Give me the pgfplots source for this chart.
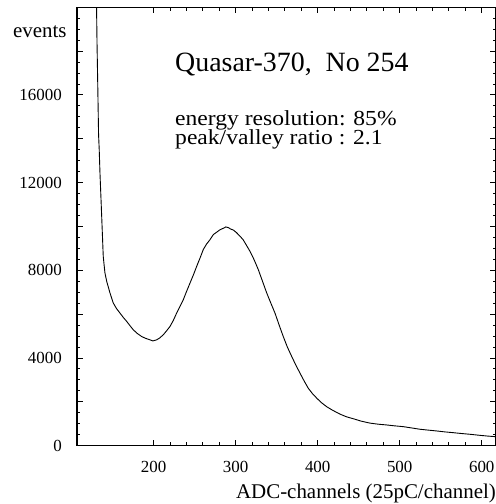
\documentclass[border=0pt]{standalone}
\usepackage{fontspec}
\setmainfont{Liberation Serif}
\usepackage{pgfplots}
\pgfplotsset{compat=1.18}

\begin{document}
\begin{tikzpicture}
\useasboundingbox (-77bp,-58.3bp) rectangle (419bp,445.7bp);
\begin{axis}[
    scale only axis,
    width=419bp, height=438.4bp,
    xmin=106.5, xmax=617.4,
    ymin=0, ymax=20000,
    axis line style={line width=1.2bp},
    xtick={200,300,400,500,600},
    minor x tick num=4,
    ytick={0,2000,...,20000},
    yticklabels={0,,4000,,8000,,12000,,16000,,},
    minor y tick num=3,
    tick align=inside,
    major tick length=6bp, minor tick length=3.5bp,
    tick style={line width=1bp, black},
    /pgf/number format/assume math mode=true,
    tick label style={font=\fontsize{17}{20}\selectfont, inner sep=0pt},
    xticklabel style={yshift=-15bp},
    yticklabel style={xshift=-15bp},
    every axis x label/.style={at={(rel axis cs:1,0)}, anchor=base east,
        yshift=-52.3bp, inner sep=0pt, font=\fontsize{21}{24}\selectfont},
    every axis y label/.style={at={(rel axis cs:0,0.9316)}, anchor=base east,
        xshift=-10.3bp, inner sep=0pt, font=\fontsize{21}{24}\selectfont},
    xlabel={ADC-channels (25pC/channel)},
    ylabel={events},
]
\addplot[black, line width=0.9bp] coordinates {
 (130,21000) (130.9,18400) (131.9,16250) (132.8,14200) (133.6,13500)
 (134.5,12450) (136.6,10470) (138.5,8640) (140.5,7900) (142.7,7500)
 (146.7,6970) (150.7,6510) (154.8,6250) (158.9,6050) (163,5850)
 (167.1,5670) (171,5480) (175.1,5290) (180,5120) (185.4,4980)
 (190,4900) (195.5,4830) (199,4780) (203.7,4830) (207.5,4920)
 (211.7,5060) (215.5,5230) (219.9,5440) (224,5720) (228,6050)
 (232,6350) (236.1,6660) (240,7030) (244.3,7420) (248.5,7800)
 (252.4,8180) (256.5,8560) (260.5,8950) (264.5,9200) (268.7,9400)
 (272.7,9630) (276.8,9740) (280.8,9850) (284.9,9920) (288,9980)
 (291,9950) (294,9880) (297.1,9840) (301,9720) (305.2,9560)
 (309,9400) (313,9150) (317.4,8870) (322.5,8480) (327.6,8030)
 (332.7,7500) (337.8,6970) (342.9,6500) (347.9,6050) (353,5500)
 (358,4980) (363,4500) (368.3,4070) (373.3,3680) (378.4,3310)
 (383.5,2950) (388.5,2620) (393.5,2380) (398.8,2170) (404,1980)
 (410.9,1780) (418,1620) (427.2,1440) (435,1320) (443.4,1230)
 (453,1120) (463.8,1030) (474,980) (484.1,946) (494,905)
 (504.4,869) (514.5,810) (524.8,750) (535,710) (545.1,672)
 (555,630) (565.4,594) (575.5,555) (585.7,521) (596,480)
 (606.1,443) (617.4,410)
};
\node[anchor=base west, inner sep=0pt, font=\fontsize{28}{32}\selectfont]
    at (rel axis cs:0.2339,0.853) {Quasar-370,\ \ No 254};
\node[anchor=base west, inner sep=0pt, xscale=1.1, transform shape,
      font=\fontsize{21.5}{24}\selectfont]
    at (rel axis cs:0.2339,0.7315) {energy resolution: 85\%};
\node[anchor=base west, inner sep=0pt, xscale=1.1, transform shape,
      font=\fontsize{21.5}{24}\selectfont]
    at (rel axis cs:0.2339,0.686) {peak/valley ratio : 2.1};
\end{axis}
\end{tikzpicture}
\end{document}
